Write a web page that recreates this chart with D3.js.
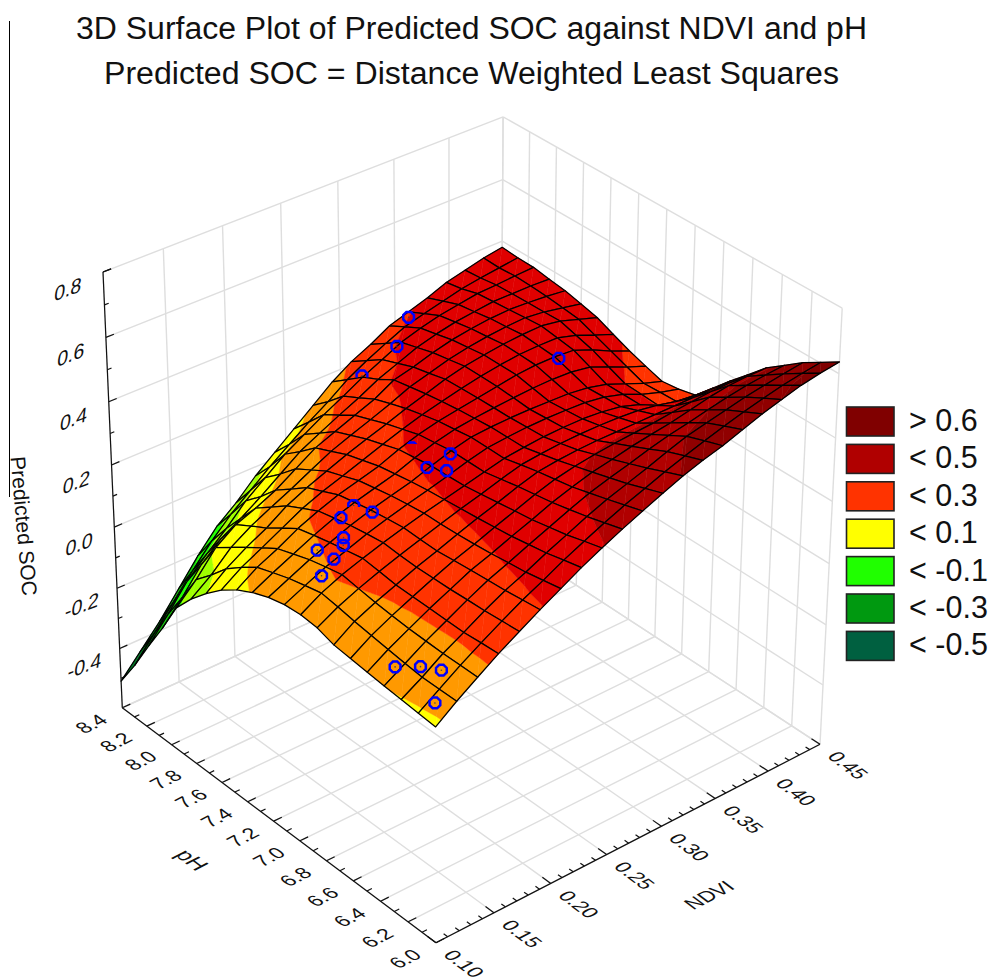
<!DOCTYPE html>
<html>
<head>
<meta charset="utf-8">
<script src="https://d3js.org/d3.v7.min.js"></script>
<style>
  body { margin: 0; background: #fff; }
  text { font-family: "Liberation Sans", Arial, sans-serif; fill: #111; }
</style>
</head>
<body>
<svg width="992" height="979"></svg>
<script>
var titleLines = ['3D Surface Plot of Predicted SOC against NDVI and pH', 'Predicted SOC = Distance Weighted Least Squares'];

var ndviTicks = ['0.10', '0.15', '0.20', '0.25', '0.30', '0.35', '0.40', '0.45'];
var phTicks = ['6.0', '6.2', '6.4', '6.6', '6.8', '7.0', '7.2', '7.4', '7.6', '7.8', '8.0', '8.2', '8.4'];
var socTicks = ['-0.4', '-0.2', '0.0', '0.2', '0.4', '0.6', '0.8'];
var socMinor = [-0.5, -0.3, -0.1, 0.1, 0.3, 0.5, 0.7];

var legendLabels = ['> 0.6', '< 0.5', '< 0.3', '< 0.1', '< -0.1', '< -0.3', '< -0.5'];
var legendColors = ['#800000', '#b00000', '#ff3300', '#ffff00', '#20ff00', '#009910', '#006040'];

// contour levels and the colour of each band
var bandLevels = [-0.5, -0.4, -0.3, -0.2, -0.1, 0, 0.1, 0.2, 0.3, 0.4, 0.5, 0.6];
var bandColors = ['#006040', '#007d28', '#009910', '#10cc08', '#20ff00', '#a0ff00', '#ffff00', '#ff9900', '#ff3300', '#e00000', '#b00000', '#900000', '#800000'];

// predicted SOC, one row per pH step (6.0 to 8.4), one column per NDVI step (0.10 to 0.45)
var socGrid = [
  [.087,.135,.178,.220,.258,.295,.330,.365,.396,.425,.452,.478,.503,.523,.540,.562,.583,.600,.617,.628,.636],
  [.092,.135,.178,.217,.254,.289,.320,.353,.382,.410,.436,.459,.482,.503,.522,.540,.557,.572,.585,.595,.603],
  [.097,.135,.178,.213,.250,.283,.310,.340,.367,.395,.420,.440,.460,.483,.503,.517,.530,.543,.553,.562,.570],
  [.102,.141,.180,.214,.248,.279,.304,.331,.356,.382,.405,.424,.440,.458,.473,.485,.498,.510,.520,.526,.530],
  [.108,.148,.182,.215,.245,.275,.297,.322,.345,.370,.390,.408,.420,.433,.443,.452,.465,.478,.487,.490,.490],
  [.114,.155,.187,.216,.244,.270,.292,.316,.338,.361,.380,.393,.402,.409,.414,.418,.425,.431,.436,.437,.437],
  [.120,.163,.192,.217,.243,.265,.288,.310,.330,.352,.370,.378,.383,.385,.385,.385,.385,.385,.385,.385,.385],
  [.137,.172,.200,.224,.246,.266,.286,.305,.322,.341,.358,.365,.370,.372,.372,.370,.365,.355,.340,.332,.330],
  [.142,.180,.208,.230,.250,.268,.285,.300,.315,.330,.345,.352,.358,.360,.360,.355,.345,.325,.295,.280,.275],
  [.138,.168,.197,.220,.243,.262,.279,.295,.312,.330,.345,.351,.355,.356,.355,.352,.343,.325,.298,.278,.262],
  [.125,.155,.185,.210,.235,.255,.272,.288,.310,.330,.345,.350,.352,.352,.350,.348,.340,.325,.300,.275,.255],
  [.105,.138,.168,.198,.224,.245,.262,.279,.302,.322,.337,.345,.351,.356,.360,.361,.358,.348,.322,.295,.272],
  [.078,.120,.150,.185,.212,.235,.252,.270,.295,.315,.330,.340,.350,.360,.370,.375,.375,.370,.345,.315,.290],
  [.042,.085,.118,.152,.186,.212,.233,.255,.278,.299,.318,.333,.348,.360,.370,.377,.379,.378,.360,.335,.312],
  [-.005,.045,.085,.118,.160,.190,.215,.240,.262,.283,.305,.325,.345,.360,.370,.378,.383,.385,.375,.355,.335],
  [-.058,-.010,.050,.090,.122,.152,.185,.217,.241,.264,.288,.315,.332,.350,.362,.371,.377,.380,.373,.361,.348],
  [-.122,-.060,.015,.060,.085,.115,.155,.195,.220,.245,.270,.305,.320,.340,.355,.365,.372,.375,.372,.367,.360],
  [-.225,-.155,-.075,-.020,.018,.060,.105,.150,.182,.213,.242,.275,.300,.325,.342,.355,.363,.370,.370,.370,.367],
  [-.320,-.245,-.165,-.105,-.050,.012,.060,.108,.145,.182,.215,.250,.280,.310,.330,.345,.355,.365,.368,.372,.375],
  [-.420,-.345,-.270,-.195,-.125,-.065,-.015,.035,.080,.125,.165,.210,.245,.275,.303,.320,.335,.350,.360,.368,.376],
  [-.510,-.440,-.370,-.290,-.210,-.140,-.090,-.030,.020,.070,.120,.170,.210,.240,.275,.295,.315,.340,.355,.370,.380]
];

// observed samples
var sampleNdvi = [.359, .327, .301, .385, .247, .252, .234, .239, .181, .183, .170, .156, .150, .145, .142, .128, .108, .1185, .124, .109];
var samplePh = [8.37, 8.19, 8.24, 7.45, 7.40, 7.16, 7.18, 7.08, 7.27, 7.15, 7.27, 7.13, 7.08, 7.23, 7.08, 7.05, 6.35, 6.26, 6.16, 6.08];
var sampleSoc = [.29, .29, .22, .36, .30, .34, .32, .33, .26, .27, .24, .24, .24, .19, .21, .19, .15, .16, .17, .12];
// share of the marker left uncovered by the surface, from its top
var sampleVisible = [1, 1, 0.6, 1, 0.25, 1, 1, 1, 0.6, 1, 1, 1, 1, 1, 1, 1, 1, 1, 1, 1];

var uScale = d3.scaleLinear().domain([0.10, 0.45]).range([0, 1]);
var vScale = d3.scaleLinear().domain([6.0, 8.4]).range([0, 1]);
var wScale = d3.scaleLinear().domain([-0.6, 0.8]).range([0, 1]);
var meshScale = d3.scaleLinear().domain([0, 20]).range([0, 1]);

// perspective of the box, fitted on its visible corners
var project = function(u, v, w) {
  var d = 1 + 0.066 * u + 0.072 * v - 0.06 * w;
  return [
    (436 + 438.12 * u - 304.9 * v - 26.87 * w) / d,
    (942.7 - 149.28 * u - 184 * v - 483.39 * w) / d
  ];
};

var svg = d3.select('svg');
var line = d3.line();

svg.append('line')
  .attr('x1', 9.5).attr('y1', 21).attr('x2', 9.5).attr('y2', 497)
  .attr('stroke', '#000').attr('stroke-width', 1);

svg.selectAll('.title')
  .data(titleLines)
  .enter()
  .append('text')
  .attr('class', 'title')
  .attr('x', 471.5)
  .attr('y', function(d, i) { return 39 + i * 45; })
  .attr('text-anchor', 'middle')
  .attr('font-size', 31)
  .attr('textLength', function(d, i) { return i === 0 ? 791 : 735; })
  .attr('lengthAdjust', 'spacingAndGlyphs')
  .text(function(d) { return d; });

// back walls and floor
var gridSegments = [];
ndviTicks.forEach(function(t) {
  var u = uScale(+t);
  gridSegments.push([project(u, 0, 0), project(u, 1, 0)]);
  gridSegments.push([project(u, 1, 0), project(u, 1, 1)]);
});
phTicks.forEach(function(t) {
  var v = vScale(+t);
  gridSegments.push([project(0, v, 0), project(1, v, 0)]);
  gridSegments.push([project(1, v, 0), project(1, v, 1)]);
});
['-0.6'].concat(socTicks).forEach(function(t) {
  var w = wScale(+t);
  gridSegments.push([project(0, 1, w), project(1, 1, w)]);
  gridSegments.push([project(1, 1, w), project(1, 0, w)]);
});

svg.selectAll('.grid')
  .data(gridSegments)
  .enter()
  .append('path')
  .attr('class', 'grid')
  .attr('d', function(d) { return line(d); })
  .attr('fill', 'none')
  .attr('stroke', '#dedede')
  .attr('stroke-width', 1.4);

// axes with their ticks
var axisSegments = [
  [project(0, 1, 0), project(0, 1, 1)],
  [project(0, 1, 0), project(0, 0, 0)],
  [project(0, 0, 0), project(1, 0, 0)]
];
socTicks.forEach(function(t) {
  axisSegments.push([project(0, 1, wScale(+t)), project(0.019, 1, wScale(+t))]);
});
axisSegments.push([project(0, 1, 1), project(0.019, 1, 1)]);
socMinor.forEach(function(t) {
  axisSegments.push([project(0, 1, wScale(t)), project(0.01, 1, wScale(t))]);
});
phTicks.forEach(function(t, i) {
  var v = vScale(+t);
  axisSegments.push([project(0, v, 0), project(0.02, v, 0)]);
  if (i < phTicks.length - 1) {
    var vm = vScale(+t + 0.1);
    axisSegments.push([project(0, vm, 0), project(0.012, vm, 0)]);
  }
});
ndviTicks.forEach(function(t, i) {
  var u = uScale(+t);
  axisSegments.push([project(u, 0, 0), project(u, 0.025, 0)]);
  if (i < ndviTicks.length - 1) {
    d3.range(1, 5).forEach(function(k) {
      var um = uScale(+t + k * 0.01);
      axisSegments.push([project(um, 0, 0), project(um, 0.012, 0)]);
    });
  }
});

svg.selectAll('.axis')
  .data(axisSegments)
  .enter()
  .append('path')
  .attr('class', 'axis')
  .attr('d', function(d) { return line(d); })
  .attr('fill', 'none')
  .attr('stroke', '#111')
  .attr('stroke-width', 1.2);

// labels lie in the planes of the box: baseline direction and "down" direction
var wallPlane = [0.93, -0.36, -0.12, 1];
var floorAlongNdvi = [0.889, -0.458, 0.8, 0.6];
var floorAlongPh = [0.8, 0.6, -0.889, 0.458];

var planeMatrix = function(m, x, y) {
  return 'matrix(' + m.join(',') + ',' + x + ',' + y + ')';
};

var addLabels = function(labels, anchor, plane, size) {
  svg.selectAll(null)
    .data(labels)
    .enter()
    .append('text')
    .attr('text-anchor', 'middle')
    .attr('dominant-baseline', 'central')
    .attr('font-size', size)
    .attr('transform', function(d) {
      var p = anchor(+d);
      return planeMatrix(plane, p[0], p[1]);
    })
    .text(function(d) { return d; });
};

addLabels(socTicks, function(t) {
  var p = project(0, 1, wScale(t));
  return [p[0] - 35, p[1] + 17];
}, wallPlane, 21);
addLabels(phTicks, function(t) {
  var p = project(0, vScale(t), 0);
  return [p[0] - 31, p[1] + 16];
}, floorAlongNdvi, 20);
addLabels(ndviTicks, function(t) {
  var p = project(uScale(t), 0, 0);
  return [p[0] + 28, p[1] + 21];
}, floorAlongPh, 20);

svg.append('text')
  .attr('text-anchor', 'middle')
  .attr('dominant-baseline', 'central')
  .attr('font-size', 21)
  .attr('transform', 'translate(24,526) rotate(85)')
  .text('Predicted SOC');

svg.append('text')
  .attr('text-anchor', 'middle')
  .attr('dominant-baseline', 'central')
  .attr('font-size', 22)
  .attr('transform', planeMatrix(floorAlongPh, 192, 860))
  .text('pH');

svg.append('text')
  .attr('text-anchor', 'middle')
  .attr('dominant-baseline', 'central')
  .attr('font-size', 20)
  .attr('transform', planeMatrix(floorAlongNdvi, 709, 895))
  .text('NDVI');

// cut a polygon of {x, y, z} at one level, keep the side given by sign
var clipAt = function(poly, level, sign) {
  var out = [];
  poly.forEach(function(a, i) {
    var b = poly[(i + 1) % poly.length];
    var da = sign * (a.z - level);
    var db = sign * (b.z - level);
    if (da >= 0) out.push(a);
    if ((da >= 0) !== (db >= 0)) {
      var t = da / (da - db);
      out.push({ x: a.x + t * (b.x - a.x), y: a.y + t * (b.y - a.y), z: level });
    }
  });
  return out;
};

var meshPoint = function(i, j) {
  var z = socGrid[j][i];
  var p = project(meshScale(i), meshScale(j), wScale(z));
  return { x: p[0], y: p[1], z: z };
};

// back to front, so nearer cells cover the ones behind
var cells = [];
d3.range(19, -1, -1).forEach(function(i) {
  d3.range(19, -1, -1).forEach(function(j) {
    cells.push({ i: i, j: j, corners: [meshPoint(i, j), meshPoint(i + 1, j), meshPoint(i + 1, j + 1), meshPoint(i, j + 1)] });
  });
});

var bandPieces = function(cell) {
  var c = cell.corners;
  var pieces = [];
  [[c[0], c[1], c[2]], [c[0], c[2], c[3]]].forEach(function(tri) {
    bandColors.forEach(function(color, k) {
      var poly = tri;
      if (k > 0) poly = clipAt(poly, bandLevels[k - 1], 1);
      if (poly.length && k < bandLevels.length) poly = clipAt(poly, bandLevels[k], -1);
      if (poly.length > 2) pieces.push({ color: color, poly: poly });
    });
  });
  return pieces;
};

var polyPath = function(poly) {
  return line(poly.map(function(p) { return [p.x, p.y]; })) + 'Z';
};

var cellGroups = svg.selectAll('.cell')
  .data(cells)
  .enter()
  .append('g')
  .attr('class', 'cell');

cellGroups.selectAll('.band')
  .data(function(d) { return bandPieces(d); })
  .enter()
  .append('path')
  .attr('class', 'band')
  .attr('d', function(d) { return polyPath(d.poly); })
  .attr('fill', function(d) { return d.color; })
  .attr('stroke', function(d) { return d.color; })
  .attr('stroke-width', 0.5);

cellGroups.append('path')
  .attr('d', function(d) { return polyPath(d.corners); })
  .attr('fill', 'none')
  .attr('stroke', '#000')
  .attr('stroke-width', 1.25)
  .attr('stroke-linejoin', 'round');

// sample markers, small octagons with a dot
var octagon = d3.lineRadial()
  .angle(function(d) { return (d + 0.5) * Math.PI / 4; })
  .radius(5.8)
  .curve(d3.curveLinearClosed);

var defs = svg.append('defs');
sampleVisible.forEach(function(share, i) {
  if (share < 1) {
    defs.append('clipPath')
      .attr('id', 'cut' + i)
      .append('rect')
      .attr('x', -9).attr('y', -8)
      .attr('width', 18)
      .attr('height', 16 * share);
  }
});

var markers = svg.selectAll('.marker')
  .data(sampleNdvi)
  .enter()
  .append('g')
  .attr('class', 'marker')
  .attr('transform', function(d, i) {
    var p = project(uScale(d), vScale(samplePh[i]), wScale(sampleSoc[i]));
    return 'translate(' + p[0] + ',' + p[1] + ')';
  })
  .append('g')
  .attr('clip-path', function(d, i) { return sampleVisible[i] < 1 ? 'url(#cut' + i + ')' : null; });

markers.append('path')
  .attr('d', octagon(d3.range(8)))
  .attr('fill', 'none')
  .attr('stroke', '#0000ff')
  .attr('stroke-width', 2.5);

markers.append('circle')
  .attr('r', 0.8)
  .attr('fill', '#444');

// legend
var legendRow = d3.scaleBand()
  .domain(legendLabels)
  .range([403.5, 665.3]);

svg.selectAll('.swatch')
  .data(legendLabels)
  .enter()
  .append('rect')
  .attr('class', 'swatch')
  .attr('x', 846.5)
  .attr('y', function(d) { return legendRow(d) + 3.5; })
  .attr('width', 47.5)
  .attr('height', 29)
  .attr('fill', function(d, i) { return legendColors[i]; })
  .attr('stroke', '#222')
  .attr('stroke-width', 1.6);

svg.selectAll('.legend-text')
  .data(legendLabels)
  .enter()
  .append('text')
  .attr('class', 'legend-text')
  .attr('x', 909)
  .attr('y', function(d) { return legendRow(d) + 27.5; })
  .attr('font-size', 30.5)
  .text(function(d) { return d; });
</script>
</body>
</html>
